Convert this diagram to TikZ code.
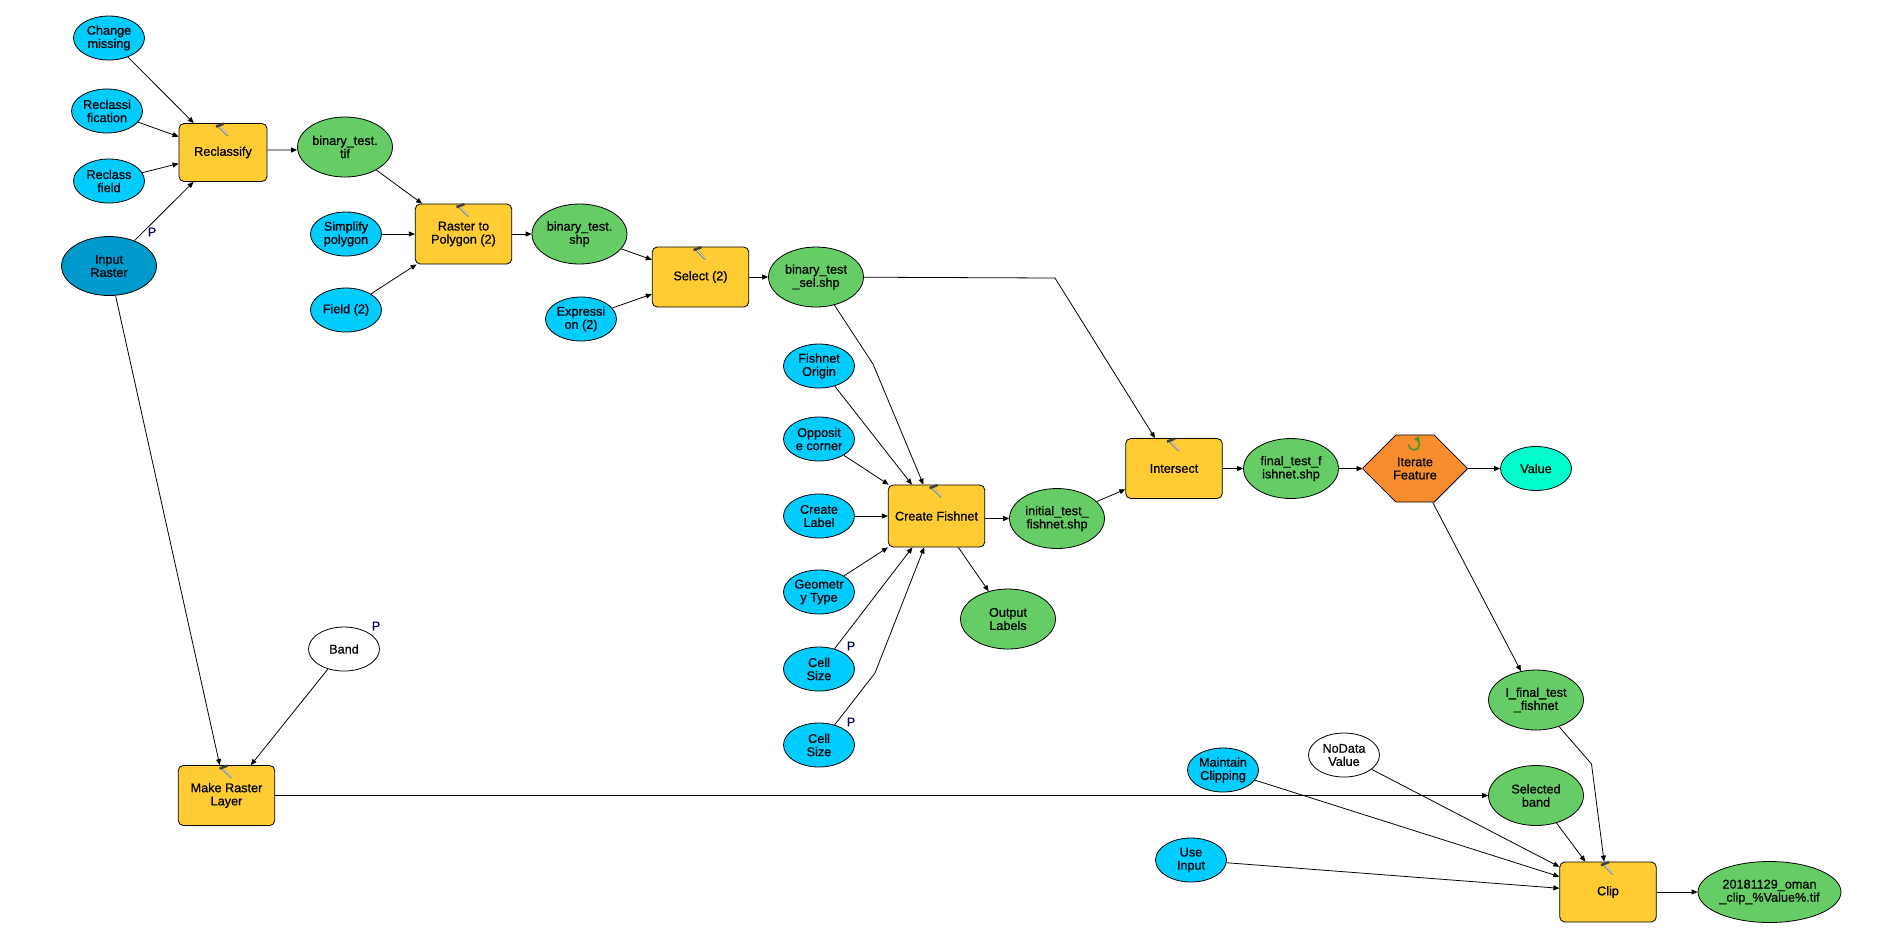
\documentclass[tikz,border=0pt]{standalone}
\usepackage{fontspec}
\setmainfont{Liberation Sans}[BoldFont=Liberation Sans, BoldFeatures={FakeBold=0.6}]
\usepackage{tikz}
\usetikzlibrary{arrows.meta, shapes.geometric, shapes.misc}
\definecolor{paramblue}{HTML}{00CCFF}
\definecolor{inputblue}{HTML}{0099CC}
\definecolor{toolyellow}{HTML}{FFCC33}
\definecolor{datagreen}{HTML}{66CC66}
\definecolor{iterorange}{HTML}{F78D2E}
\definecolor{valueaqua}{HTML}{00FFCC}
\definecolor{pnavy}{HTML}{000066}
\definecolor{loopgreen}{HTML}{3F9B2A}
\tikzset{
    hammer/.pic = {
    \draw[-, line width=1.2pt, black!50] (-5,2.5) -- (5,12.5);
    \draw[-, line width=0.4pt, black!8] (-4,3) -- (5,12);
    \draw[-, line width=1.4pt, black!75] (-7,3.5) -- (1,0.5);
    },
    looparrow/.pic = {
    \draw[-{Triangle[length=0.1cm,width=0.11cm]}, line width=0.9pt, loopgreen] (-5.5,0) arc[start angle=180, end angle=-90, x radius=5.5, y radius=5.5];
    },
    txt/.style={font=\fontsize{7.2}{7.5}\selectfont\bfseries, align=center, inner sep=0pt},
    param/.style={txt, ellipse, draw, fill=paramblue, minimum width=1.42cm, minimum height=0.88cm},
    varblank/.style={param, fill=white},
    dataset/.style={txt, ellipse, draw, fill=datagreen, minimum width=1.9cm, minimum height=1.2cm},
    toolbox/.style={txt, rectangle, rounded corners=0.1cm, draw, fill=toolyellow, minimum width=1.93cm, minimum height=1.2cm},
    plabel/.style={font=\fontsize{7.2}{7.5}\selectfont\bfseries, text=pnavy, inner sep=0pt},
}
\begin{document}
\begin{tikzpicture}[x=0.02cm, y=-0.02cm, line width=0.45pt]
    \tikzset{
      ->,
      >={Triangle[length=0.12cm,width=0.1cm]}
    }
    \useasboundingbox (0,0) rectangle (1901,938);

    % reclassify branch
    \node[param] (missing) at (109,38) {Change\\missing};
    \node[param] (reclassification) at (107,111) {Reclassi\\fication};
    \node[param] (reclassfield) at (109,181) {Reclass\\field};
    \node[param, fill=inputblue, minimum width=1.9cm, minimum height=1.18cm] (inraster) at (109,266) {Input\\Raster};
    \node[toolbox, minimum width=1.76cm, minimum height=1.16cm] (reclassify) at (223,152.5) {Reclassify};
    \node[dataset] (bintif) at (345,147) {binary\_test.\\tif};

    % raster to polygon and select
    \node[param] (simplify) at (346,234) {Simplify\\polygon};
    \node[param] (field) at (346,310) {Field (2)};
    \node[toolbox] (rastopoly) at (463.5,234) {Raster to\\Polygon (2)};
    \node[dataset] (binshp) at (579.5,234) {binary\_test.\\shp};
    \node[param] (expression) at (581,319) {Expressi\\on (2)};
    \node[toolbox] (select) at (700.5,277) {Select (2)};
    \node[dataset] (binsel) at (816,277) {binary\_test\\\_sel.shp};

    % fishnet inputs
    \node[param] (origin) at (819,366) {Fishnet\\Origin};
    \node[param] (opposite) at (819,439) {Opposit\\e corner};
    \node[param] (label) at (819,516) {Create\\Label};
    \node[param] (geometry) at (819,592) {Geometr\\y Type};
    \node[param] (cellone) at (819,669) {Cell\\Size};
    \node[param] (celltwo) at (819,745) {Cell\\Size};
    \node[toolbox, minimum height=1.24cm] (fishnet) at (936.5,516) {Create Fishnet};
    \node[dataset] (initial) at (1057,518.5) {initial\_test\_\\fishnet.shp};
    \node[dataset] (outlabels) at (1008,619) {Output\\Labels};

    % intersect and iterator
    \node[toolbox] (intersect) at (1174,468.5) {Intersect};
    \node[dataset] (final) at (1291,468.5) {final\_test\_f\\ishnet.shp};
    \node[txt, chamfered rectangle, draw, fill=iterorange, minimum width=2.08cm, minimum height=1.34cm, chamfered rectangle xsep=0.5cm, chamfered rectangle ysep=0.67cm] (iterate) at (1415,468.5) {Iterate\\Feature};
    \node[param, fill=valueaqua] (value) at (1536,468.5) {Value};
    \node[dataset] (lfinal) at (1536,700) {I\_final\_test\\\_fishnet};

    % raster layer and clip
    \node[varblank] (band) at (344,649) {Band};
    \node[toolbox] (makelayer) at (226.5,795.5) {Make Raster\\Layer};
    \node[dataset] (selband) at (1536,795.5) {Selected\\band};
    \node[varblank] (nodata) at (1344,755) {NoData\\Value};
    \node[param] (clipping) at (1223,770) {Maintain\\Clipping};
    \node[param] (useinput) at (1191,860) {Use\\Input};
    \node[toolbox] (clip) at (1608,892) {Clip};
    \node[dataset, minimum width=2.86cm, minimum height=1.22cm] (output) at (1769.5,892) {20181129\_oman\\\_clip\_\%Value\%.tif};

    % model parameter marks
    \node[plabel] (pinraster) at (152,232) {P};
    \node[plabel] (pband) at (376,626) {P};
    \node[plabel] (pcellone) at (851,646) {P};
    \node[plabel] (pcelltwo) at (851,722) {P};

    % tool icons
    \pic at (reclassify.north) {hammer};
    \pic at (rastopoly.north) {hammer};
    \pic at (select.north) {hammer};
    \pic at (fishnet.north) {hammer};
    \pic at (intersect.north) {hammer};
    \pic at (makelayer.north) {hammer};
    \pic at (clip.north) {hammer};
    \pic at (1414,444.5) {looparrow};

    % bend points
    \coordinate (bendsel) at (873,364);
    \coordinate (bendint) at (1055,278);
    \coordinate (bendcell) at (875,673);
    \coordinate (bendfin) at (1591.5,764);

    \draw (missing) -- (reclassify);
    \draw (reclassification) -- (reclassify);
    \draw (reclassfield) -- (reclassify);
    \draw (inraster) -- (reclassify);
    \draw ([yshift=0.05cm]reclassify.east) -- ([yshift=-0.06cm]bintif.west);
    \draw (bintif) -- (rastopoly);
    \draw (simplify) -- (rastopoly);
    \draw (field) -- (rastopoly);
    \draw (rastopoly) -- (binshp);
    \draw (binshp) -- (select);
    \draw (expression) -- (select);
    \draw (select) -- (binsel);
    \draw (binsel) -- (bendsel) -- (fishnet);
    \draw (binsel) -- (bendint) -- (intersect);
    \draw (origin) -- (fishnet);
    \draw (opposite) -- (fishnet);
    \draw (label) -- (fishnet);
    \draw (geometry) -- (fishnet);
    \draw (cellone) -- (fishnet);
    \draw (celltwo) -- (bendcell) -- (fishnet);
    \draw ([yshift=-0.05cm]fishnet.east) -- (initial.west);
    \draw (fishnet) -- (outlabels);
    \draw (initial) -- (intersect);
    \draw (intersect) -- (final);
    \draw (final) -- (iterate);
    \draw (iterate) -- (value);
    \draw (iterate) -- (lfinal);
    \draw (inraster) -- (makelayer);
    \draw (band) -- (makelayer);
    \draw (makelayer) -- (selband);
    \draw (lfinal) -- (bendfin) -- (clip);
    \draw (selband) -- (clip);
    \draw (nodata) -- (clip);
    \draw (clipping) -- (clip);
    \draw (useinput) -- (clip);
    \draw (clip) -- (output);
\end{tikzpicture}
\end{document}
